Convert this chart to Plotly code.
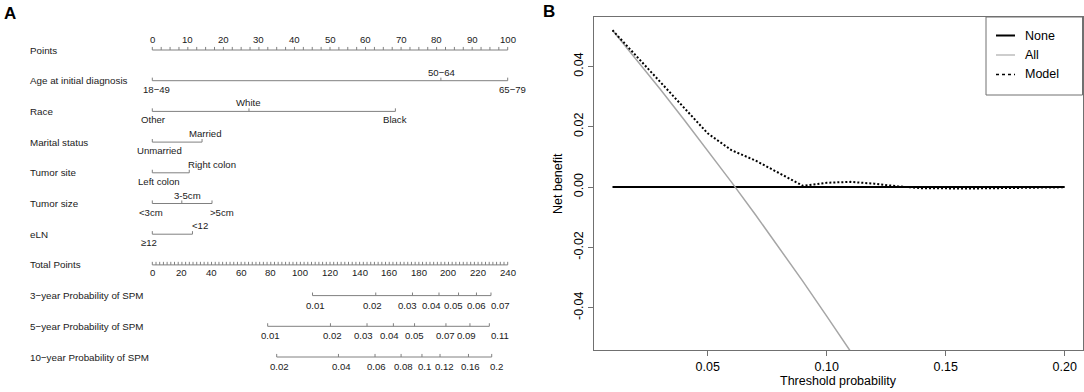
import plotly.graph_objects as go

FONT = "Liberation Sans, Arial, Helvetica, sans-serif"
W, H = 1084, 392

# ---------------- Panel A: nomogram data ----------------
row_names = ["Points", "Age at initial diagnosis", "Race", "Marital status",
             "Tumor site", "Tumor size", "eLN", "Total Points",
             "3\u2212year Probability of SPM", "5\u2212year Probability of SPM",
             "10\u2212year Probability of SPM"]

points_ticks = [0, 10, 20, 30, 40, 50, 60, 70, 80, 90, 100]
points_tick_labels = ["0", "10", "20", "30", "40", "50", "60", "70", "80", "90", "100"]
total_ticks = [0, 20, 40, 60, 80, 100, 120, 140, 160, 180, 200, 220, 240]
total_tick_labels = ["0", "20", "40", "60", "80", "100", "120", "140", "160",
                     "180", "200", "220", "240"]

age_levels = ["18\u221249", "50\u221264", "65\u221279"]
age_points = [0, 81.2, 100]
age_label_x = [1.1, 81.4, 101.3]

race_levels = ["Other", "White", "Black"]
race_points = [0, 27.2, 68.4]
race_label_x = [0.3, 27.1, 68.3]

marital_levels = ["Unmarried", "Married"]
marital_points = [0, 14.0]
marital_label_x = [2.1, 14.9]

site_levels = ["Left colon", "Right colon"]
site_points = [0, 10.4]
site_label_x = [1.8, 16.7]

size_levels = ["<3cm", "3-5cm", ">5cm"]
size_points = [0, 8.3, 16.8]
size_label_x = [-0.4, 9.8, 19.5]

eln_levels = ["\u226512", "<12"]
eln_points = [0, 11.3]
eln_label_x = [-0.9, 13.3]

prob3_labels = ["0.01", "0.02", "0.03", "0.04", "0.05", "0.06", "0.07"]
prob3_tick_tp = [108.2, 150.9, 175.7, 193.6, 206.8, 218.9, 228.7]
prob3_label_tp = [109.9, 148.6, 172.5, 188.7, 203.3, 218.6, 234.8]

prob5_labels = ["0.01", "0.02", "0.03", "0.04", "0.05", "0.07", "0.09", "0.11"]
prob5_tick_tp = [77.9, 120.3, 145.0, 162.8, 177.1, 198.3, 214.5, 227.6]
prob5_label_tp = [79.7, 121.8, 142.5, 160.0, 176.9, 198.1, 212.5, 234.8]

prob10_labels = ["0.02", "0.04", "0.06", "0.08", "0.1", "0.12", "0.16", "0.2"]
prob10_tick_tp = [84.0, 125.7, 150.4, 168.0, 182.1, 194.3, 213.5, 229.2]
prob10_label_tp = [85.6, 128.1, 151.5, 169.8, 183.5, 197.5, 215.0, 232.1]

# ---------------- Panel B: decision curve data ----------------
model_thr = [0.01, 0.02, 0.03, 0.04, 0.045, 0.05, 0.06, 0.07, 0.08, 0.09,
             0.10, 0.11, 0.12, 0.13, 0.14, 0.15, 0.16, 0.17, 0.18, 0.19, 0.20]
model_nb = [0.0520, 0.0434, 0.0347, 0.0262, 0.0220, 0.0178, 0.0122, 0.0088,
            0.0046, 0.0004, 0.0014, 0.0017, 0.0011, 0.0002, -0.0004, -0.0005,
            -0.0005, -0.0004, -0.0003, -0.0002, -0.0001]
all_thr = [0.01, 0.02, 0.03, 0.04, 0.05, 0.06, 0.07, 0.08, 0.09, 0.10, 0.11]
all_nb = [0.0520, 0.0424, 0.0325, 0.0224, 0.0121, 0.0016, -0.0091, -0.0201,
          -0.0313, -0.0428, -0.0545]
none_thr = [0.01, 0.20]
none_nb = [0.0, 0.0]

x_ticks_b = [0.05, 0.10, 0.15, 0.20]
x_tick_labels_b = ["0.05", "0.10", "0.15", "0.20"]
y_ticks_b = [-0.04, -0.02, 0.0, 0.02, 0.04]
y_tick_labels_b = ["-0.04", "-0.02", "0.00", "0.02", "0.04"]

# ---------------- figure ----------------
LINE_GRAY = "#808080"
TXT = "#1a1a1a"
TICK = 0.10          # tick length in row units (upward)
SHIFT = 8.5          # label offset in px
PT_PER_TP = 100 / 240

fig = go.Figure()
ann = []


def seg_trace(xs, row, xaxis="x"):
    """Axis line from min to max plus upward ticks at xs."""
    px, py = [min(xs), max(xs), None], [row, row, None]
    for v in xs:
        px += [v, v, None]
        py += [row, row - TICK, None]
    fig.add_trace(go.Scatter(x=px, y=py, mode="lines", xaxis=xaxis, yaxis="y",
                             line=dict(color=LINE_GRAY, width=1),
                             hoverinfo="skip", showlegend=False))


def label(text, x, row, shift, xref="x", size=9.6):
    ann.append(dict(text=text, x=x, y=row, xref=xref, yref="y", yshift=shift,
                    showarrow=False, xanchor="center", yanchor="middle",
                    font=dict(family=FONT, size=size, color=TXT)))


# row names
for i, name in enumerate(row_names):
    ann.append(dict(text=name, x=28 / W, y=i, xref="paper", yref="y",
                    showarrow=False, xanchor="left", yanchor="middle",
                    font=dict(family=FONT, size=9.8, color=TXT)))

# Points axis (row 0)
minor_pts = [k * 2.5 for k in range(41)]
seg_trace(minor_pts, 0)
for v, t in zip(points_ticks, points_tick_labels):
    label(t, v, 0, 10.5)

# categorical rows
cat_rows = [
    (1, age_levels, age_points, age_label_x, [-1, 1, -1]),
    (2, race_levels, race_points, race_label_x, [-1, 1, -1]),
    (3, marital_levels, marital_points, marital_label_x, [-1, 1]),
    (4, site_levels, site_points, site_label_x, [-1, 1]),
    (5, size_levels, size_points, size_label_x, [-1, 1, -1]),
    (6, eln_levels, eln_points, eln_label_x, [-1, 1]),
]
for row, levels, pts, lx, side in cat_rows:
    seg_trace(pts, row)
    for t, x, s in zip(levels, lx, side):
        label(t, x, row, SHIFT * s)

# Total points (row 7) on its own scale axis
minor_tp = [k * 2.5 for k in range(97)]
seg_trace(minor_tp, 7, xaxis="x3")
for v, t in zip(total_ticks, total_tick_labels):
    label(t, v, 7, -7.5, xref="x3")

# probability rows
for row, labs, ticks, lpos in [(8, prob3_labels, prob3_tick_tp, prob3_label_tp),
                               (9, prob5_labels, prob5_tick_tp, prob5_label_tp),
                               (10, prob10_labels, prob10_tick_tp, prob10_label_tp)]:
    seg_trace(ticks, row, xaxis="x3")
    for t, x in zip(labs, lpos):
        label(t, x, row, -9.5, xref="x3")

# ---------------- Panel B traces ----------------
fig.add_trace(go.Scatter(x=none_thr, y=none_nb, mode="lines", name="None",
                         xaxis="x2", yaxis="y2", showlegend=False,
                         line=dict(color="#000000", width=2)))
fig.add_trace(go.Scatter(x=all_thr, y=all_nb, mode="lines", name="All",
                         xaxis="x2", yaxis="y2", showlegend=False,
                         line=dict(color="#a6a6a6", width=1.5)))
fig.add_trace(go.Scatter(x=model_thr, y=model_nb, mode="lines", name="Model",
                         xaxis="x2", yaxis="y2", showlegend=False,
                         line=dict(color="#000000", width=2, dash="2px,2px")))

# legend (drawn manually to match R's legend box)
shapes = [dict(type="rect", xref="paper", yref="paper",
               x0=986 / W, x1=1082.5 / W, y0=1 - 95 / H, y1=1 - 17 / H,
               line=dict(color="#707070", width=1), fillcolor="rgba(0,0,0,0)")]
leg_items = [("None", "#000000", 2, "solid"), ("All", "#bdbdbd", 1.5, "solid"),
             ("Model", "#000000", 1.5, "dot")]
for k, (name, col, wd, dsh) in enumerate(leg_items):
    yy = 1 - (35.5 + 19.5 * k) / H
    shapes.append(dict(type="line", xref="paper", yref="paper",
                       x0=996 / W, x1=1015 / W, y0=yy, y1=yy,
                       line=dict(color=col, width=wd, dash=dsh)))
    ann.append(dict(text=name, x=1023 / W, y=yy, xref="paper", yref="paper",
                    showarrow=False, xanchor="left", yanchor="middle",
                    font=dict(family=FONT, size=12.5, color="#000")))

# panel letters and axis titles
ann.append(dict(text="<b>A</b>", x=9.5 / W, y=1 - 13.5 / H, xref="paper", yref="paper",
                showarrow=False, xanchor="center", yanchor="middle",
                font=dict(family=FONT, size=17, color="#000")))
ann.append(dict(text="<b>B</b>", x=549 / W, y=1 - 11.5 / H, xref="paper", yref="paper",
                showarrow=False, xanchor="center", yanchor="middle",
                font=dict(family=FONT, size=17, color="#000")))
ann.append(dict(text="Threshold probability", x=838.5 / W, y=1 - 381 / H,
                xref="paper", yref="paper", showarrow=False,
                xanchor="center", yanchor="middle",
                font=dict(family=FONT, size=12.5, color="#000")))
ann.append(dict(text="Net benefit", x=558 / W, y=1 - 184 / H, textangle=-90,
                xref="paper", yref="paper", showarrow=False,
                xanchor="center", yanchor="middle",
                font=dict(family=FONT, size=12.5, color="#000")))

left_px0, left_px100 = 152.3, 507.7
ppp = (left_px100 - left_px0) / 100
xr = [-left_px0 / ppp, (540 - left_px0) / ppp]
row_px0, row_step = 50.0, 30.7
yr = [(H - row_px0) / row_step, -row_px0 / row_step]

fig.update_layout(
    width=W, height=H, margin=dict(l=0, r=0, t=0, b=0),
    paper_bgcolor="white", plot_bgcolor="white", showlegend=False,
    xaxis=dict(domain=[0, 540 / W], range=xr, visible=False, anchor="y"),
    xaxis3=dict(domain=[0, 540 / W], range=[v / PT_PER_TP for v in xr],
                visible=False, anchor="y", overlaying="x"),
    yaxis=dict(domain=[0, 1], range=yr, visible=False, anchor="x"),
    xaxis2=dict(domain=[594.4 / W, 1082.8 / W], range=[0.0024, 0.2076],
                anchor="y2", showline=True, mirror=True, linecolor="#707070",
                linewidth=1, ticks="outside", ticklen=5, tickcolor="#707070",
                tickvals=x_ticks_b, ticktext=x_tick_labels_b, showgrid=False,
                zeroline=False, tickfont=dict(family=FONT, size=12.5, color="#000")),
    yaxis2=dict(domain=[(H - 350) / H, (H - 17) / H], range=[-0.05406, 0.05638],
                anchor="x2", showline=True, mirror=True, linecolor="#707070",
                linewidth=1, ticks="outside", ticklen=5, tickcolor="#707070",
                tickvals=y_ticks_b, ticktext=y_tick_labels_b, tickangle=-90,
                showgrid=False, zeroline=False,
                tickfont=dict(family=FONT, size=12.5, color="#000")),
    annotations=ann, shapes=shapes,
)

fig.write_html(
    "out.html",
    config={"displayModeBar": False},
    post_script="document.body.style.margin='0';document.body.style.overflow='hidden';",
)
